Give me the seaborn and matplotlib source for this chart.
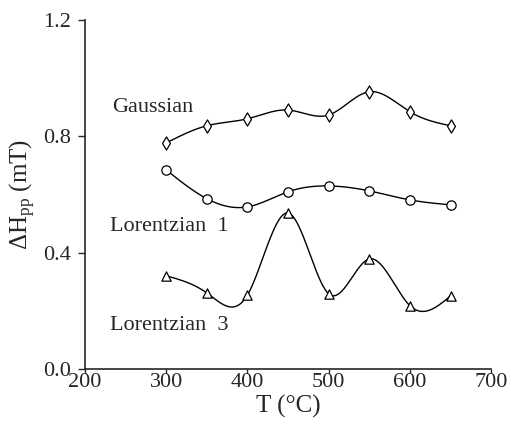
import numpy as np
import pandas as pd
import seaborn as sns
import matplotlib
matplotlib.use('Agg')
import matplotlib.pyplot as plt

# values
temps = [300, 350, 400, 450, 500, 550, 600, 650]
gaussian = [0.777, 0.836, 0.860, 0.890, 0.873, 0.953, 0.884, 0.836]
lorentz1 = [0.684, 0.585, 0.557, 0.609, 0.629, 0.612, 0.581, 0.564]
lorentz3 = [0.320, 0.261, 0.254, 0.536, 0.258, 0.378, 0.217, 0.251]

series_names = ['Gaussian', 'Lorentzian  1', 'Lorentzian  3']
series_vals = [gaussian, lorentz1, lorentz3]
series_markers = ['d', 'o', '^']
label_pos = [(233, 0.900), (231, 0.488), (231, 0.150)]


def natural_spline(x, y, n=300):
    # natural cubic spline through the measured points (for the smooth line only)
    x = np.asarray(x, float)
    y = np.asarray(y, float)
    k = len(x)
    h = np.diff(x)
    A = np.zeros((k, k))
    b = np.zeros(k)
    A[0, 0] = A[-1, -1] = 1
    for i in range(1, k - 1):
        A[i, i - 1] = h[i - 1]
        A[i, i] = 2 * (h[i - 1] + h[i])
        A[i, i + 1] = h[i]
        b[i] = 6 * ((y[i + 1] - y[i]) / h[i] - (y[i] - y[i - 1]) / h[i - 1])
    M = np.linalg.solve(A, b)
    xs = np.linspace(x[0], x[-1], n)
    idx = np.clip(np.searchsorted(x, xs) - 1, 0, k - 2)
    x0, x1 = x[idx], x[idx + 1]
    hh = x1 - x0
    t0, t1 = x1 - xs, xs - x0
    ys = (M[idx] * t0**3 + M[idx + 1] * t1**3) / (6 * hh) \
        + (y[idx] / hh - M[idx] * hh / 6) * t0 \
        + (y[idx + 1] / hh - M[idx + 1] * hh / 6) * t1
    return xs, ys


sns.set_style('ticks')
plt.rcParams['font.family'] = ['Liberation Serif', 'DejaVu Serif']
plt.rcParams['mathtext.fontset'] = 'custom'
plt.rcParams['mathtext.rm'] = 'Liberation Serif'
plt.rcParams['mathtext.it'] = 'Liberation Serif:italic'

fig = plt.figure(figsize=(5.09, 4.23), dpi=100)
ax = fig.add_axes([0.167, 0.128, 0.798, 0.825])

for name, vals, mk in zip(series_names, series_vals, series_markers):
    xs, ys = natural_spline(temps, vals)
    sns.lineplot(x=xs, y=ys, ax=ax, color='black', lw=1.0)
    pts = pd.DataFrame({'T': temps, 'H': vals})
    sns.scatterplot(data=pts, x='T', y='H', ax=ax, marker=mk, s=45,
                    facecolor='white', edgecolor='black', linewidth=0.9, zorder=3)

for name, (tx, ty) in zip(series_names, label_pos):
    ax.text(tx, ty, name, fontsize=16, va='center', ha='left')

ax.set_xlim(200, 700)
ax.set_ylim(0, 1.2)
ax.set_xticks([200, 300, 400, 500, 600, 700])
ax.set_yticks([0.0, 0.4, 0.8, 1.2])
ax.yaxis.set_major_formatter(matplotlib.ticker.FormatStrFormatter('%.1f'))
ax.tick_params(labelsize=16, width=1, direction='out')
ax.tick_params(axis='x', length=3, pad=0)
ax.tick_params(axis='y', length=5, pad=5)
ax.set_xlabel('T (°C)', fontsize=18, labelpad=2)
ax.set_ylabel(r'$\Delta$H$_{\rm pp}$ (mT)', fontsize=18, labelpad=4)
for s in ['left', 'bottom']:
    ax.spines[s].set_linewidth(1.2)
sns.despine(ax=ax)

fig.savefig('out.png', dpi=100)
